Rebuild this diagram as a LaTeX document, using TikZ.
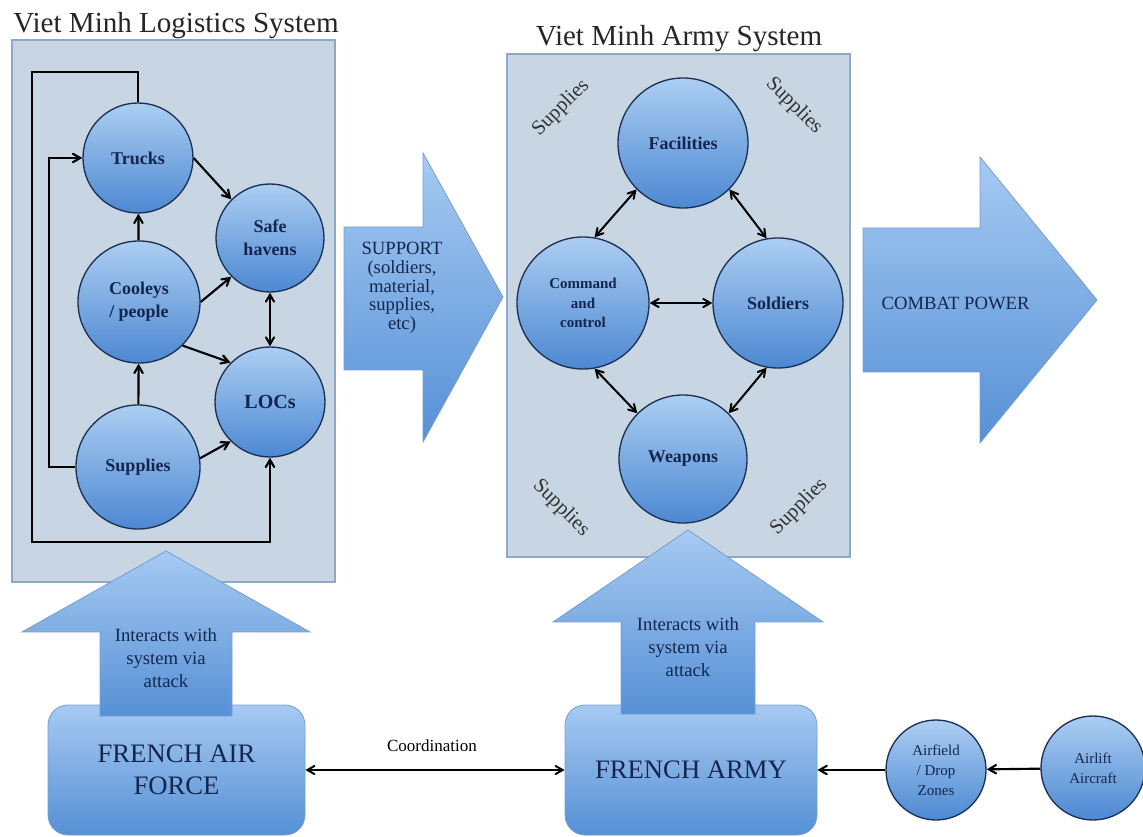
\documentclass[tikz,border=0pt]{standalone}
\usepackage{fontspec}
\setmainfont{Liberation Serif}
\usetikzlibrary{arrows}

\definecolor{panelfill}{RGB}{200,213,227}
\definecolor{paneledge}{RGB}{141,168,200}
\definecolor{balltop}{RGB}{172,206,242}
\definecolor{ballbot}{RGB}{76,136,210}
\definecolor{balledge}{RGB}{28,48,84}
\definecolor{bigtop}{RGB}{166,202,242}
\definecolor{bigbot}{RGB}{86,144,214}
\definecolor{bigedge}{RGB}{118,158,210}
\definecolor{navytext}{RGB}{20,38,78}

\tikzset{
  panel/.style={fill=panelfill, draw=paneledge, line width=1pt},
  ball/.style={circle, draw=balledge, line width=1pt, top color=balltop,
    bottom color=ballbot, text=navytext, align=center, inner sep=0pt,
    minimum size=#1, font=\fontsize{13.5}{17}\selectfont\bfseries},
  bigarrow/.style={draw=bigedge, line width=0.6pt, top color=bigtop, bottom color=bigbot},
  frbox/.style={draw=bigedge, line width=0.6pt, top color=bigtop, bottom color=bigbot,
    rounded corners=15pt, text=navytext, align=center,
    font=\fontsize{20}{24}\selectfont},
  bigtext/.style={text=navytext, align=center, font=\fontsize{14}{17}\selectfont},
  ttl/.style={text=black!85, font=\fontsize{21.8}{25}\selectfont},
  sup/.style={text=black!80, font=\fontsize{15.5}{18}\selectfont},
  arr/.style={-angle 60, line width=1.6pt},
  dbl/.style={angle 60-angle 60, line width=1.5pt}
}

\begin{document}
\begin{tikzpicture}[x=0.75pt, y=-0.75pt]
\useasboundingbox (0,0) rectangle (1143,837);

% panels and titles
\draw[panel] (12,40) rectangle (335,582);
\draw[panel] (507,54) rectangle (850,557);
\node[ttl, anchor=base] (logtitle) at (176,33) {Viet Minh Logistics System};
\node[ttl, anchor=base] (armytitle) at (679,46) {Viet Minh Army System};

% logistics system
\node[ball=82.5pt] (trucks) at (138,158) {Trucks};
\node[ball=81pt] (haven) at (270,238) {Safe\\havens};
\node[ball=91.5pt] (cooley) at (139,302) {Cooleys\\/ people};
\node[ball=82.5pt, font=\fontsize{15}{18}\selectfont\bfseries] (locs) at (270,402) {LOCs};
\node[ball=93pt] (supply) at (138,467) {Supplies};

\draw[arr] (trucks.east) -- (haven.135);
\draw[arr] (cooley) -- (trucks);
\draw[arr] (cooley.east) -- (haven.225);
\draw[arr] (cooley.-45) -- (locs.135);
\draw[dbl] (haven) -- (locs);
\draw[arr] (supply) -- (cooley);
\draw[arr] (supply.8) -- (locs.225);
\draw[arr] (trucks.north) |- (32,72) -- (32,542) -| (locs.south);
\draw[arr] (supply.west) -- (49,467) |- (trucks.west);

% army system
\node[ball=97.5pt] (facil) at (683,143) {Facilities};
\node[ball=99pt, font=\fontsize{11.25}{14.5}\selectfont\bfseries] (cmd) at (583,303) {Command\\and\\control};
\node[ball=97.5pt] (soldier) at (778,303) {Soldiers};
\node[ball=96pt] (weapon) at (683,459) {Weapons};

\draw[dbl] (facil.225) -- (cmd.80);
\draw[dbl] (facil.-45) -- (soldier.100);
\draw[dbl] (cmd) -- (soldier);
\draw[dbl] (cmd.-80) -- (weapon.135);
\draw[dbl] (soldier.-100) -- (weapon.45);

\node[sup, rotate=45] (supTL) at (561,108) {Supplies};
\node[sup, rotate=-45] (supTR) at (794,106) {Supplies};
\node[sup, rotate=-45] (supBL) at (561,508) {Supplies};
\node[sup, rotate=45] (supBR) at (799,507) {Supplies};

% big arrows
\draw[bigarrow] (344,227) -- (423,227) -- (423,153) -- (503,297) -- (423,442) -- (423,370) -- (344,370) -- cycle;
\node[bigtext, font=\fontsize{14}{14}\selectfont] (support) at (402,288) {SUPPORT\\(soldiers,\\material,\\supplies,\\etc)};
\draw[bigarrow] (863,228) -- (980,228) -- (980,157) -- (1097,300) -- (980,443) -- (980,372) -- (863,372) -- cycle;
\node[bigtext, anchor=west] (combat) at (877,303) {COMBAT POWER};

% french side
\node[frbox, minimum width=192.75pt, minimum height=97.5pt] (faf) at (176.5,770) {FRENCH AIR\\FORCE};
\node[frbox, minimum width=189pt, minimum height=97.5pt] (army) at (691,770) {FRENCH ARMY};
\draw[bigarrow] (100,716) -- (100,632) -- (22,632) -- (166,551) -- (310,632) -- (232,632) -- (232,716) -- cycle;
\node[bigtext] (hitair) at (166,658) {Interacts with\\system via\\attack};
\draw[bigarrow] (621,714) -- (621,622) -- (553,622) -- (688,530) -- (823,622) -- (755,622) -- (755,714) -- cycle;
\node[bigtext] (hitarmy) at (688,647) {Interacts with\\system via\\attack};

\node[ball=75pt, font=\fontsize{11.25}{15}\selectfont] (airfield) at (936,770) {Airfield\\/ Drop\\Zones};
\node[ball=78pt, font=\fontsize{11.25}{15}\selectfont] (airlift) at (1093,768) {Airlift\\Aircraft};

\draw[dbl] (faf) -- (army);
\node[font=\fontsize{12.75}{15}\selectfont] (coord) at (432,746) {Coordination};
\draw[arr] (airfield) -- (army);
\draw[arr] (airlift) -- (airfield);

\end{tikzpicture}
\end{document}
